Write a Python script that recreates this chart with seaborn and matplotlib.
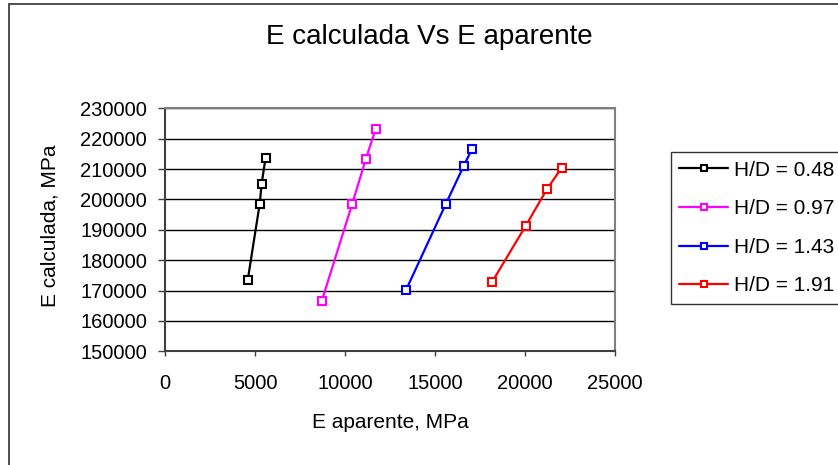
import matplotlib
matplotlib.use("Agg")
import matplotlib.pyplot as plt
from matplotlib.patches import Rectangle
import pandas as pd
import seaborn as sns

# E aparente (x) vs E calculada (y), MPa, for each H/D ratio
series_labels = ["H/D = 0.48", "H/D = 0.97", "H/D = 1.43", "H/D = 1.91"]
series_colors = ["#000000", "#FF00FF", "#0000FF", "#FF0000"]

e_aparente_048 = [4600, 5260, 5370, 5590]
e_calculada_048 = [173600, 198500, 205200, 213800]

e_aparente_097 = [8700, 10400, 11150, 11700]
e_calculada_097 = [166400, 198500, 213200, 223100]

e_aparente_143 = [13400, 15600, 16600, 17050]
e_calculada_143 = [170300, 198500, 211100, 216500]

e_aparente_191 = [18170, 20040, 21220, 22040]
e_calculada_191 = [172800, 191300, 203400, 210400]

x_ticks = [0, 5000, 10000, 15000, 20000, 25000]
y_ticks = [150000, 160000, 170000, 180000, 190000, 200000, 210000, 220000, 230000]

xs = [e_aparente_048, e_aparente_097, e_aparente_143, e_aparente_191]
ys = [e_calculada_048, e_calculada_097, e_calculada_143, e_calculada_191]

frames = []
for label, x, y in zip(series_labels, xs, ys):
    frames.append(pd.DataFrame({"E aparente": x, "E calculada": y, "serie": label}))
data = pd.concat(frames, ignore_index=True)

sns.set_style("white")
plt.rcParams["font.family"] = ["Liberation Sans", "DejaVu Sans"]
plt.rcParams.update({
    "text.color": "black",
    "axes.labelcolor": "black",
    "xtick.color": "black",
    "ytick.color": "black",
})

fig = plt.figure(figsize=(8.38, 4.65), dpi=100)
fig.patch.set_facecolor("white")
ax = fig.add_axes([165 / 838, 0.2445, 450 / 838, 0.5226])

for label, color in zip(series_labels, series_colors):
    sub = data[data["serie"] == label]
    sns.lineplot(
        data=sub, x="E aparente", y="E calculada", ax=ax, sort=False,
        color=color, linewidth=1.6, marker="s", markersize=6,
        markerfacecolor="white", markeredgecolor=color, markeredgewidth=1.5,
        label=label, legend=False, zorder=3,
    )

ax.set_xlim(x_ticks[0], x_ticks[-1])
ax.set_ylim(y_ticks[0], y_ticks[-1])
ax.set_xticks(x_ticks)
ax.set_yticks(y_ticks)
ax.set_xticklabels([str(v) for v in x_ticks])
ax.set_yticklabels([str(v) for v in y_ticks])

ax.yaxis.grid(True, color="black", linewidth=1.0, zorder=0)
ax.xaxis.grid(False)
ax.set_axisbelow(True)

for side in ("top", "right"):
    ax.spines[side].set_color("#808080")
    ax.spines[side].set_linewidth(1.5)
for side in ("left", "bottom"):
    ax.spines[side].set_color("#404040")
    ax.spines[side].set_linewidth(1.5)

ax.tick_params(axis="y", direction="out", length=5, width=1.0, color="#404040",
               labelcolor="black", labelsize=14.5, pad=8, left=True)
ax.tick_params(axis="x", direction="out", length=3.5, width=1.0, color="#404040",
               labelcolor="black", labelsize=14.5, pad=13, bottom=True)

ax.set_xlabel("E aparente, MPa", fontsize=15, va="center", color="black")
ax.set_ylabel("E calculada, MPa", fontsize=15, va="center", color="black")
ax.xaxis.set_label_coords(0.5, -0.295)
ax.yaxis.set_label_coords(-0.255, 0.518)

fig.text(429 / 838, 1 - 37 / 465, "E calculada Vs E aparente",
         ha="center", va="center", fontsize=20, color="black")

leg = ax.legend(
    loc="upper left", bbox_to_anchor=(670.7 / 838, 1 - 152.3 / 465),
    bbox_transform=fig.transFigure, fontsize=15, frameon=True, fancybox=False,
    edgecolor="black", borderpad=0.4, handlelength=2.35, handletextpad=0.3,
    labelspacing=0.94, borderaxespad=0, markerscale=0.8,
)
leg.get_frame().set_linewidth(1.0)
for txt in leg.get_texts():
    txt.set_color("black")

# chart area frame
fig.patches.append(Rectangle((9 / 838, -0.1), 1.2, (1 - 4 / 465) + 0.1,
                             transform=fig.transFigure, fill=False,
                             edgecolor="#404040", linewidth=1.3, zorder=0))

fig.savefig("out.png", dpi=100, facecolor="white")
